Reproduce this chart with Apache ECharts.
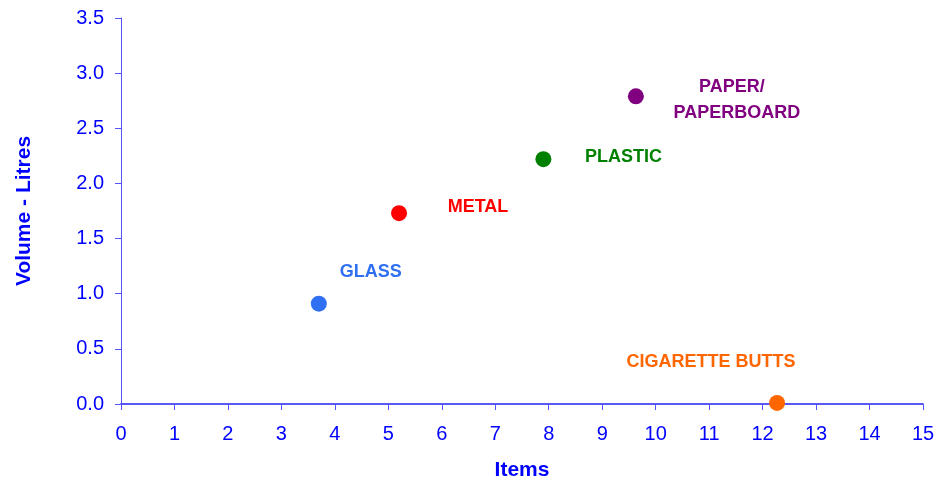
<!DOCTYPE html>
<html><head><meta charset="utf-8">
<script src="https://cdn.jsdelivr.net/npm/echarts@6/dist/echarts.min.js"></script>
<style>html,body{margin:0;padding:0;background:#fff}#c{width:941px;height:483px}</style>
</head><body><div id="c"></div>
<script>
const names = ["GLASS", "METAL", "PLASTIC", "PAPER/  \nPAPERBOARD", "CIGARETTE BUTTS"];
const itemsX = [3.7, 5.2, 7.9, 9.63, 12.27];
const volumeY = [0.91, 1.73, 2.22, 2.79, 0.01];
const colors = ["#2f70f2", "#ff0000", "#008000", "#800080", "#ff6600"];
const labelOffsets = [[52, -32], [79, -6], [80, -2], [101, 4], [-66, -41]];

const blue = "#0000ff";
const FF = "Liberation Sans, Arial, sans-serif";
const series = names.map((n, i) => ({
  type: "scatter",
  name: n,
  symbolSize: 16,
  itemStyle: { color: colors[i], opacity: 1 },
  data: [[itemsX[i], volumeY[i]]],
  label: {
    show: true,
    formatter: n,
    position: "inside",
    offset: labelOffsets[i],
    color: colors[i],
    fontFamily: FF,
    fontWeight: "bold",
    fontSize: 18,
    lineHeight: 26,
    align: "center"
  },
  emphasis: { disabled: true }
}));

const chart = echarts.init(document.getElementById("c"), null, { renderer: "canvas" });
chart.setOption({
  animation: false,
  grid: { left: 121, right: 18, top: 18, bottom: 79, outerBoundsMode: "none", containLabel: false },
  xAxis: {
    type: "value", min: 0, max: 15, interval: 1,
    name: "Items", nameLocation: "middle", nameGap: 56,
    nameTextStyle: { color: blue, fontWeight: "bold", fontSize: 21, fontFamily: FF },
    axisLine: { show: true, lineStyle: { color: "#2222ee", width: 1.5 } },
    axisTick: { show: true, length: 6, lineStyle: { color: "#5555ff" } },
    axisLabel: { color: blue, fontSize: 20, margin: 20, fontFamily: FF },
    splitLine: { show: false }
  },
  yAxis: {
    type: "value", min: 0, max: 3.5, interval: 0.5,
    name: "Volume - Litres", nameLocation: "middle", nameGap: 86, nameRotate: 90,
    nameTextStyle: { color: blue, fontWeight: "bold", fontSize: 21, fontFamily: FF },
    axisLine: { show: true, lineStyle: { color: "#5555ff", width: 1 } },
    axisTick: { show: true, length: 6, lineStyle: { color: "#5555ff" } },
    axisLabel: { color: blue, fontSize: 20, margin: 17, formatter: v => v.toFixed(1), fontFamily: FF },
    splitLine: { show: false }
  },
  series: series
});
</script></body></html>
